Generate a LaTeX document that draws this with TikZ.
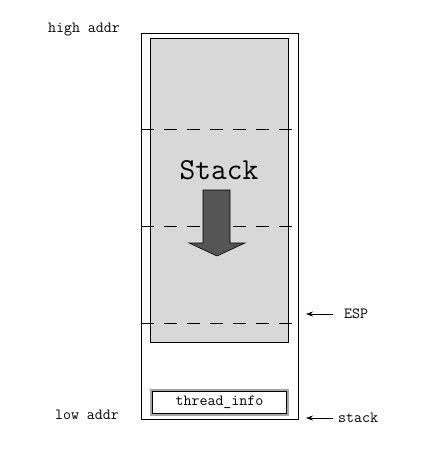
\documentclass[tikz,border=0pt]{standalone}
\usepackage{tikz}
\usetikzlibrary{arrows.meta}
\begin{document}
\begin{tikzpicture}[x=1pt,y=-1pt,
  lbl/.style={font=\fontsize{15.5}{17}\selectfont\ttfamily, inner sep=0pt},
  box/.style={draw=black, line width=1pt},
  dashline/.style={draw=black, line width=0.8pt, dash pattern=on 13pt off 10pt},
  ptr/.style={-{Stealth[length=7pt,width=5pt]}, line width=0.8pt}]
\useasboundingbox (0,0) rectangle (440,464);
% outer stack area
\draw[box] (141,33) rectangle (298,419);
\fill[fill={rgb,255:red,216;green,216;blue,216}] (150,38) rectangle (288,342);
\draw[box] (150,38) rectangle (288,342);
% dashed lines
\coordinate (d1l) at (141,129); \coordinate (d1r) at (300,129);
\coordinate (d2l) at (141,226); \coordinate (d2r) at (300,226);
\coordinate (d3l) at (141,323); \coordinate (d3r) at (300,323);
\draw[dashline] (d1l) -- (d1r);
\draw[dashline] (d2l) -- (d2r);
\draw[dashline] (d3l) -- (d3r);
% Stack label
\node[font=\fontsize{30.5}{33}\selectfont\ttfamily, inner sep=0pt] (stk) at (219,170) {Stack};
% down arrow
\draw[fill={rgb,255:red,85;green,85;blue,85}, draw=black, line width=0.6pt]
  (203,190) -- (230,190) -- (230,243) -- (245,243) -- (217,256) -- (189,243) -- (203,243) -- cycle;
% thread_info box
\draw[line width=3pt, draw=gray!70] (151.5,390.5) rectangle (287.5,414.5);
\node[draw=black, line width=1pt, minimum width=134pt, minimum height=22pt, inner sep=0pt,
  font=\fontsize{15.5}{17}\selectfont\ttfamily] (ti) at (219.5,402.5) {thread\_info};
% labels
\node[lbl] (high) at (84,30) {high addr};
\node[lbl] (low) at (87,415) {low addr};
\node[lbl, anchor=west] (esp) at (344,314) {ESP};
\node[lbl, anchor=west] (stackl) at (338,418) {stack};
\coordinate (espt) at (306,314);
\coordinate (stt) at (306,418);
\draw[ptr] (esp.west) ++(-11,0) -- (espt);
\draw[ptr] (stackl.west) ++(-5,0) -- (stt);
\end{tikzpicture}
\end{document}
